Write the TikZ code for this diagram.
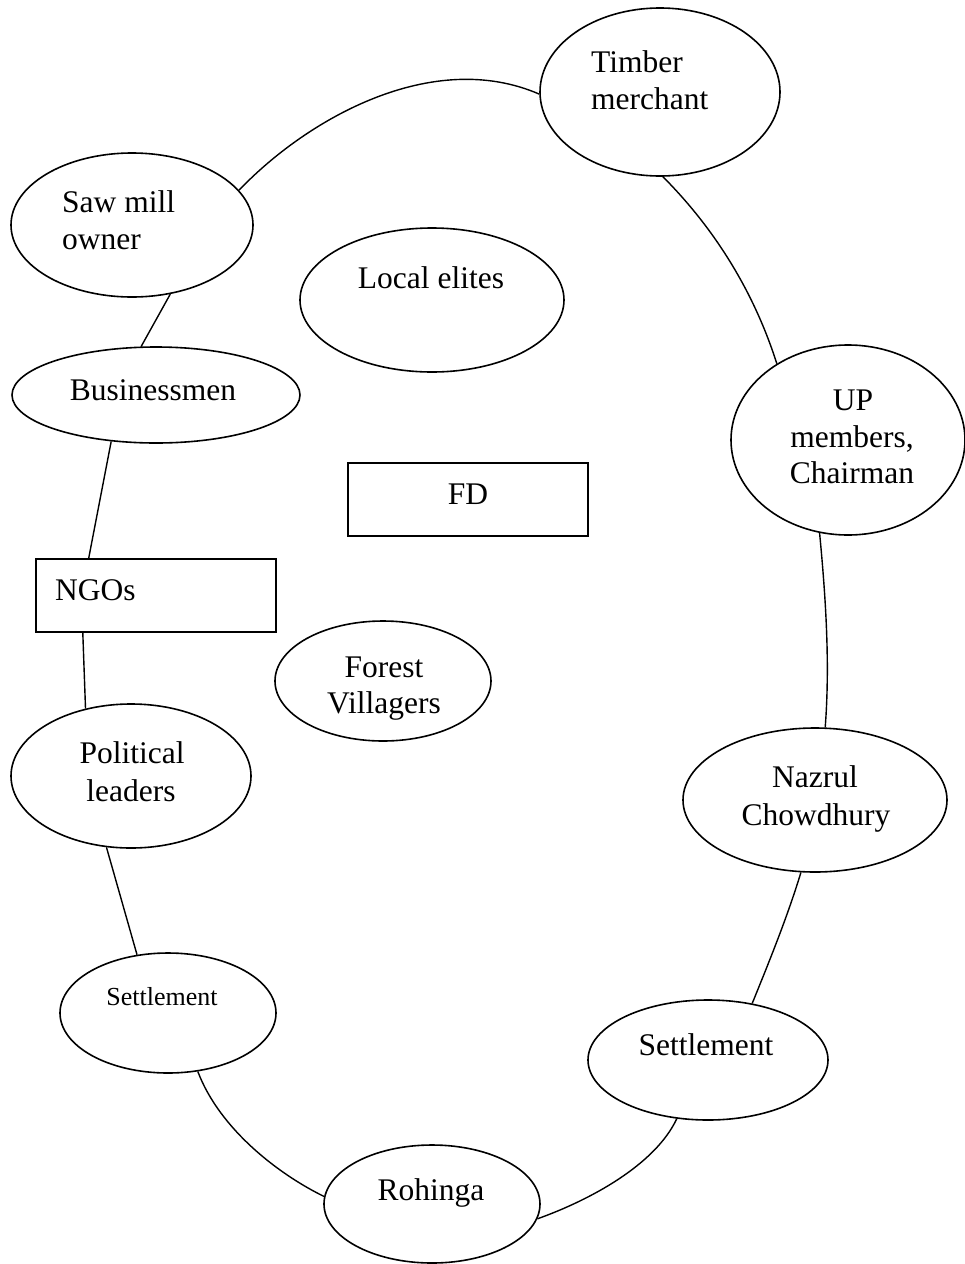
\documentclass[tikz,border=0pt]{standalone}
\usepackage{fontspec}
\setmainfont{Liberation Serif}
\usetikzlibrary{shapes.geometric}
\begin{document}
\begin{tikzpicture}[x=1pt,y=-1pt,
  oval/.style={ellipse, draw, line width=1.6pt, inner sep=0pt},
  box/.style={rectangle, draw, line width=1.6pt, inner sep=0pt},
  link/.style={line width=1.4pt},
  txt/.style={inner sep=0pt, anchor=base, font=\fontsize{31.5}{37}\selectfont},
  txtl/.style={txt, anchor=base west},
  small/.style={font=\fontsize{26}{31}\selectfont}]
\useasboundingbox (0,0) rectangle (965,1264);

% actors
\node[oval, minimum width=240pt, minimum height=168pt] (timber)  at (660,92)   {};
\node[oval, minimum width=242pt, minimum height=144pt] (saw)     at (132,225)  {};
\node[oval, minimum width=264pt, minimum height=144pt] (elites)  at (432,300)  {};
\node[oval, minimum width=288pt, minimum height=96pt]  (bus)     at (156,395)  {};
\node[oval, minimum width=234pt, minimum height=190pt] (up)      at (848,440)  {};
\node[oval, minimum width=216pt, minimum height=120pt] (forest)  at (383,681)  {};
\node[oval, minimum width=240pt, minimum height=144pt] (pol)     at (131,776)  {};
\node[oval, minimum width=264pt, minimum height=144pt] (nazrul)  at (815,800)  {};
\node[oval, minimum width=216pt, minimum height=120pt] (setl)    at (168,1013) {};
\node[oval, minimum width=240pt, minimum height=120pt] (setr)    at (708,1060) {};
\node[oval, minimum width=216pt, minimum height=118pt] (rohinga) at (432,1204) {};
\node[box,  minimum width=240pt, minimum height=73pt]  (fd)      at (468,499.5) {};
\node[box,  minimum width=240pt, minimum height=73pt]  (ngos)    at (156,595.5) {};

% labels
\node[txtl] (timber-a) at (591,72)  {Timber};
\node[txtl] (timber-b) at (591,109) {merchant};
\node[txtl] (saw-a)    at (62,212)  {Saw mill};
\node[txtl] (saw-b)    at (62,249)  {owner};
\node[txt]  (elites-a) at (431,288) {Local elites};
\node[txt]  (bus-a)    at (153,400) {Businessmen};
\node[txt]  (up-a)     at (853,410) {UP};
\node[txt]  (up-b)     at (852,447) {members,};
\node[txt]  (up-c)     at (852,483) {Chairman};
\node[txt]  (fd-a)     at (468,504) {FD};
\node[txtl] (ngos-a)   at (55,600)  {NGOs};
\node[txt]  (forest-a) at (384,677) {Forest};
\node[txt]  (forest-b) at (384,713) {Villagers};
\node[txt]  (pol-a)    at (132,763) {Political};
\node[txt]  (pol-b)    at (131,801) {leaders};
\node[txt]  (nazrul-a) at (815,787) {Nazrul};
\node[txt]  (nazrul-b) at (816,825) {Chowdhury};
\node[txt, small] (setl-a) at (162,1005) {Settlement};
\node[txt]  (setr-a)   at (706,1055) {Settlement};
\node[txt]  (roh-a)    at (431,1200) {Rohinga};

% ring of links
\draw[link] (saw.18) .. controls (308,118) and (433,48) .. (timber.181);
\draw[link] (timber.272) .. controls (715,229) and (754,292) .. (up.133);
\draw[link] (up.253) .. controls (826,600) and (830,665) .. (nazrul.82);
\draw[link] (nazrul.259) .. controls (787,918) and (769,962) .. (setr.52);
\draw[link] (setr.242) .. controls (655,1165) and (590,1200) .. (rohinga.352);
\draw[link] (rohinga.176) .. controls (280,1175) and (220,1130) .. (setl.297);
\draw[link] (setl.118) -- (pol.251);
\draw[link] (pol.124) -- (ngos.207);
\draw[link] (ngos.151) -- (bus.226);
\draw[link] (bus.107) -- (saw.299);
\end{tikzpicture}
\end{document}
